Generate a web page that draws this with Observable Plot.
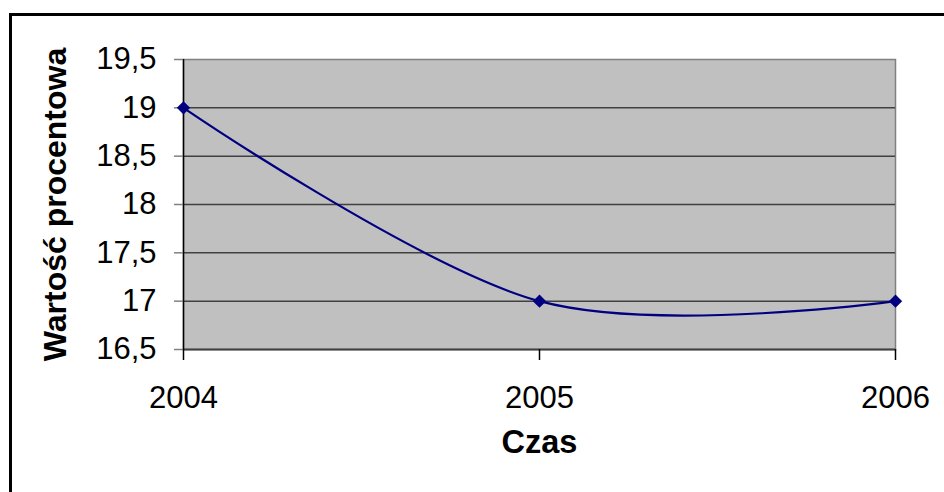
<!DOCTYPE html>
<html><head><meta charset="utf-8">
<script src="https://cdn.jsdelivr.net/npm/d3@7"></script>
<script src="https://cdn.jsdelivr.net/npm/@observablehq/plot@0.6"></script>
<style>
html,body{margin:0;padding:0;background:#fff;overflow:hidden;width:944px;height:492px}
#wrap{position:relative;width:944px;height:492px;overflow:hidden}
#wrap svg{position:absolute;left:0;top:0}
#border{position:absolute;left:9px;top:13px;width:1200px;height:1200px;border:3px solid #000;box-sizing:border-box}
</style></head><body><div id="wrap"><div id="border"></div></div>
<script>
const years = [2004, 2005, 2006];
const values = [19, 17, 17];
const yTicks = [16.5, 17, 17.5, 18, 18.5, 19, 19.5];
const xTicks = [2004, 2005, 2006];
const yTitle = "Wartość procentowa";
const xTitle = "Czas";

const data = years.map((t, i) => ({year: t, value: values[i]}));
const fmt = d => String(d).replace(".", ",");
const navy = "#000080";
const font = "'Liberation Sans', Arial, Helvetica, sans-serif";

const chart = Plot.plot({
  width: 944, height: 492,
  marginLeft: 183, marginRight: 49, marginTop: 59, marginBottom: 143,
  style: {fontFamily: font, fontSize: "31px", color: "#000", background: "transparent", overflow: "visible"},
  x: {domain: [2004, 2006], label: null},
  y: {domain: [16.5, 19.5], label: null},
  marks: [
    Plot.frame({fill: "#C0C0C0", stroke: "#808080", strokeWidth: 1.5}),
    Plot.gridY(yTicks.slice(1, -1), {stroke: "#404040", strokeOpacity: 1, strokeWidth: 1.5}),
    Plot.ruleY([16.5], {stroke: "#404040", strokeWidth: 2}),
    Plot.ruleX([2004], {stroke: "#000", strokeWidth: 1.5}),
    Plot.axisY({ticks: yTicks, tickFormat: fmt, tickSize: 9, tickPadding: 18, stroke: "#808080", strokeWidth: 1.5, fontSize: 31, label: null}),
    Plot.axisX({ticks: xTicks, tickFormat: d => String(d), tickSize: 11, tickPadding: 25, stroke: "#000", strokeWidth: 1.5, fontSize: 31, label: null}),
    Plot.line(data, {x: "year", y: "value", stroke: navy, strokeWidth: 2.2, curve: "cardinal", tension: 0}),
    Plot.dot(data, {x: "year", y: "value", symbol: "diamond2", r: 6, fill: navy, stroke: "none"}),
    Plot.text([yTitle], {text: d => d, frameAnchor: "left", dx: -128, rotate: -90, textAnchor: "middle", fontWeight: "bold", fontSize: 32}),
    Plot.text([xTitle], {text: d => d, frameAnchor: "bottom", dy: 103, fontWeight: "bold", fontSize: 32.5})
  ]
});
document.getElementById("wrap").prepend(chart);
</script>
</body></html>
